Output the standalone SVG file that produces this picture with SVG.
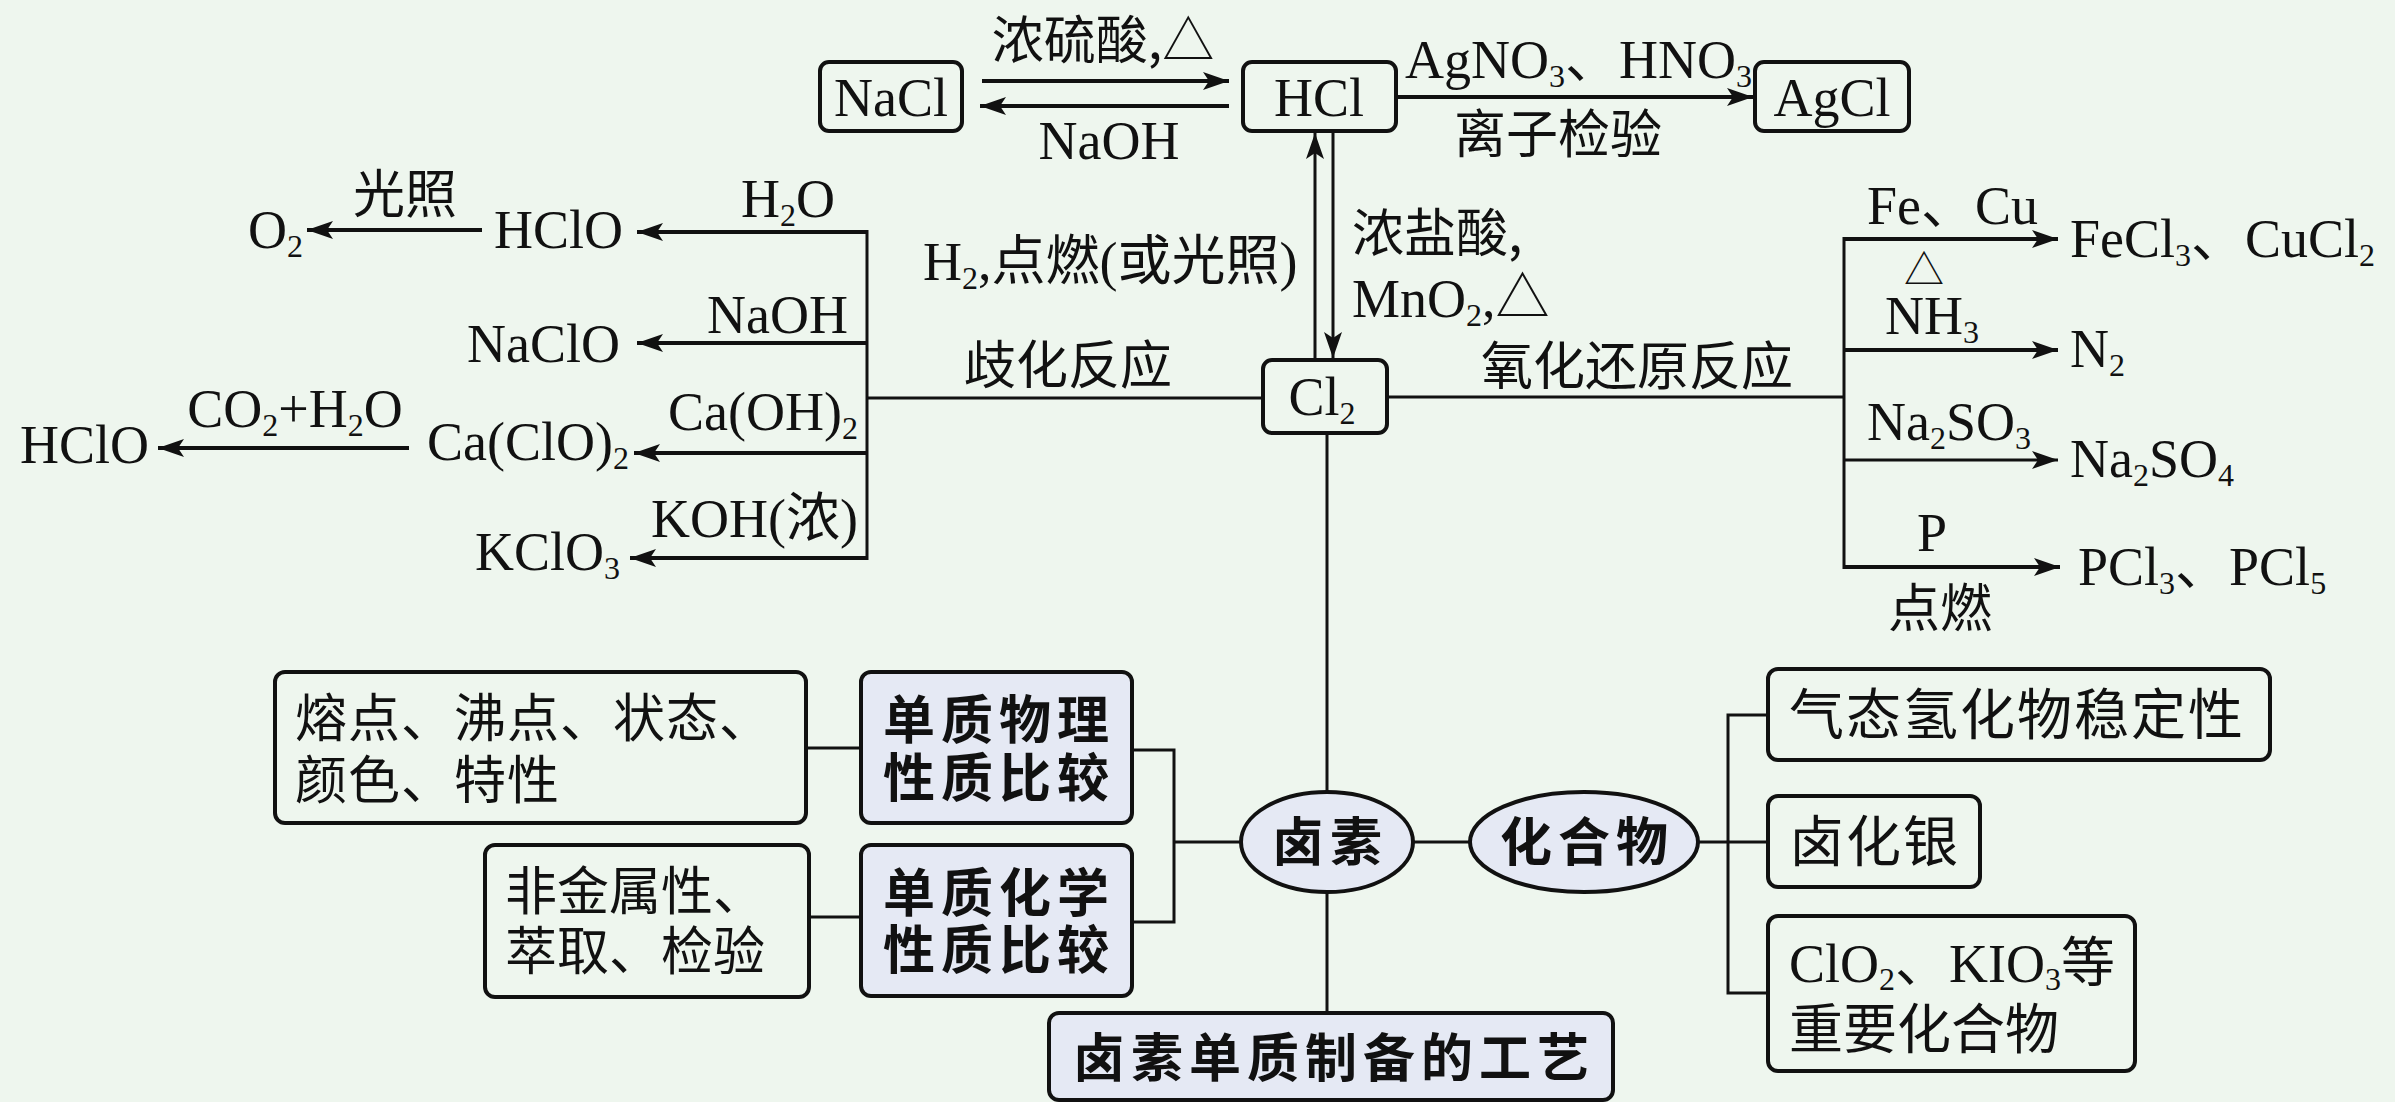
<svg xmlns="http://www.w3.org/2000/svg" width="2395" height="1102" viewBox="0 0 2395 1102">
<defs>
<style>
.chem{font-family:"Liberation Serif","Noto Sans CJK SC",serif;font-size:54px;fill:#111}
.cjk{font-family:"Noto Sans CJK SC","Liberation Serif",sans-serif;font-size:52px;fill:#111}
.bold{font-family:"Noto Sans CJK SC",sans-serif;font-weight:700;font-size:52px;fill:#111;letter-spacing:6px}
.sub{font-size:32px}
.box{fill:none;stroke:#111;stroke-width:4}
.fbox{fill:#e5e9f4;stroke:#111;stroke-width:4}
.ln{fill:none;stroke:#111;stroke-width:3}
.ar{fill:none;stroke:#111;stroke-width:4;marker-end:url(#ah)}
.art{fill:none;stroke:#111;stroke-width:3;marker-end:url(#ah)}
</style>
<marker id="ah" markerUnits="userSpaceOnUse" markerWidth="28" markerHeight="20" refX="26" refY="9" orient="auto">
<path d="M0,0 L26,9 L0,18 L6,9 z" fill="#111"/>
</marker>
</defs>
<rect width="2395" height="1102" fill="#eef6ee"/>

<g id="connectors">
<line class="ar" x1="982" y1="81" x2="1229" y2="81"/>
<line class="ar" x1="1229" y1="106" x2="980" y2="106"/>
<line class="ar" x1="1396" y1="97" x2="1753" y2="97"/>
<line class="art" x1="1315" y1="360" x2="1315" y2="133"/>
<line class="art" x1="1333" y1="131" x2="1333" y2="358"/>
<line class="ln" x1="867" y1="398" x2="1263" y2="398"/>
<line class="ln" x1="1387" y1="397" x2="1844" y2="397"/>
<line class="ln" x1="867" y1="230" x2="867" y2="560"/>
<line class="ar" x1="867" y1="232" x2="637" y2="232"/>
<line class="ar" x1="867" y1="343" x2="637" y2="343"/>
<line class="ar" x1="867" y1="453" x2="634" y2="453"/>
<line class="ar" x1="867" y1="558" x2="630" y2="558"/>
<line class="ar" x1="482" y1="230" x2="307" y2="230"/>
<line class="ar" x1="409" y1="448" x2="158" y2="448"/>
<line class="ln" x1="1844" y1="237" x2="1844" y2="569"/>
<line class="ar" x1="1844" y1="239" x2="2058" y2="239"/>
<line class="ar" x1="1844" y1="350" x2="2058" y2="350"/>
<line class="art" x1="1844" y1="460" x2="2058" y2="460"/>
<line class="ar" x1="1844" y1="567" x2="2060" y2="567"/>
<line class="ln" x1="1327" y1="433" x2="1327" y2="792"/>
<line class="ln" x1="1327" y1="892" x2="1327" y2="1013"/>
<line class="ln" x1="806" y1="748" x2="861" y2="748"/>
<line class="ln" x1="809" y1="917" x2="861" y2="917"/>
<polyline class="ln" points="1132,750 1174,750 1174,922 1132,922"/>
<line class="ln" x1="1174" y1="842" x2="1241" y2="842"/>
<line class="ln" x1="1413" y1="842" x2="1470" y2="842"/>
<line class="ln" x1="1698" y1="842" x2="1728" y2="842"/>
<polyline class="ln" points="1768,715 1728,715 1728,993 1768,993"/>
<line class="ln" x1="1728" y1="842" x2="1768" y2="842"/>
</g>

<g id="labels">
<text class="cjk" x="1103" y="59" text-anchor="middle">浓硫酸,△</text>
<text class="chem" x="1109" y="159" text-anchor="middle">NaOH</text>
<text class="chem" x="1405" y="78">AgNO<tspan class="sub" dy="9">3</tspan><tspan dy="-9">、HNO</tspan><tspan class="sub" dy="9">3</tspan></text>
<text class="cjk" x="1558" y="153" text-anchor="middle">离子检验</text>
<text class="chem" x="923" y="280">H<tspan class="sub" dy="9">2</tspan><tspan dy="-9">,点燃(或光照)</tspan></text>
<text class="cjk" x="1352" y="252">浓盐酸,</text>
<text class="chem" x="1352" y="317">MnO<tspan class="sub" dy="9">2</tspan><tspan dy="-9">,△</tspan></text>
<text class="cjk" x="1068" y="384" text-anchor="middle">歧化反应</text>
<text class="cjk" x="1637" y="385" text-anchor="middle">氧化还原反应</text>
<text class="chem" x="835" y="217" text-anchor="end">H<tspan class="sub" dy="9">2</tspan><tspan dy="-9">O</tspan></text>
<text class="chem" x="623" y="248" text-anchor="end">HClO</text>
<text class="cjk" x="405" y="213" text-anchor="middle">光照</text>
<text class="chem" x="248" y="248">O<tspan class="sub" dy="9">2</tspan></text>
<text class="chem" x="848" y="333" text-anchor="end">NaOH</text>
<text class="chem" x="620" y="362" text-anchor="end">NaClO</text>
<text class="chem" x="858" y="430" text-anchor="end">Ca(OH)<tspan class="sub" dy="9">2</tspan></text>
<text class="chem" x="629" y="460" text-anchor="end">Ca(ClO)<tspan class="sub" dy="9">2</tspan></text>
<text class="chem" x="295" y="427" text-anchor="middle">CO<tspan class="sub" dy="9">2</tspan><tspan dy="-9">+H</tspan><tspan class="sub" dy="9">2</tspan><tspan dy="-9">O</tspan></text>
<text class="chem" x="20" y="463">HClO</text>
<text class="chem" x="858" y="537" text-anchor="end">KOH(浓)</text>
<text class="chem" x="620" y="570" text-anchor="end">KClO<tspan class="sub" dy="9">3</tspan></text>
<text class="chem" x="1867" y="224">Fe、Cu</text>
<text class="cjk" x="1924" y="284" text-anchor="middle" style="font-size:40px">△</text>
<text class="chem" x="2070" y="257">FeCl<tspan class="sub" dy="9">3</tspan><tspan dy="-9">、CuCl</tspan><tspan class="sub" dy="9">2</tspan></text>
<text class="chem" x="1885" y="334">NH<tspan class="sub" dy="9">3</tspan></text>
<text class="chem" x="2070" y="367">N<tspan class="sub" dy="9">2</tspan></text>
<text class="chem" x="1867" y="440">Na<tspan class="sub" dy="9">2</tspan><tspan dy="-9">SO</tspan><tspan class="sub" dy="9">3</tspan></text>
<text class="chem" x="2070" y="477">Na<tspan class="sub" dy="9">2</tspan><tspan dy="-9">SO</tspan><tspan class="sub" dy="9">4</tspan></text>
<text class="chem" x="1932" y="551" text-anchor="middle">P</text>
<text class="cjk" x="1940" y="627" text-anchor="middle">点燃</text>
<text class="chem" x="2078" y="585">PCl<tspan class="sub" dy="9">3</tspan><tspan dy="-9">、PCl</tspan><tspan class="sub" dy="9">5</tspan></text>
</g>

<g id="node-nacl"><rect class="box" x="820" y="62" width="142" height="69" rx="9"/><text class="chem" x="891" y="116" text-anchor="middle">NaCl</text></g>
<g id="node-hcl"><rect class="box" x="1243" y="62" width="153" height="69" rx="9"/><text class="chem" x="1319" y="116" text-anchor="middle">HCl</text></g>
<g id="node-agcl"><rect class="box" x="1755" y="62" width="154" height="69" rx="9"/><text class="chem" x="1832" y="116" text-anchor="middle">AgCl</text></g>
<g id="node-cl2"><rect class="box" x="1263" y="360" width="124" height="73" rx="9"/><text class="chem" x="1322" y="415" text-anchor="middle">Cl<tspan class="sub" dy="9">2</tspan></text></g>

<g id="node-phys-props"><rect class="box" x="275" y="672" width="531" height="151" rx="10"/>
<text class="cjk" x="295" y="737" style="letter-spacing:1px">熔点、沸点、状态、</text>
<text class="cjk" x="295" y="799" style="letter-spacing:1px">颜色、特性</text></g>
<g id="node-phys"><rect class="fbox" x="861" y="672" width="271" height="151" rx="10"/>
<text class="bold" x="999" y="739" text-anchor="middle">单质物理</text>
<text class="bold" x="999" y="797" text-anchor="middle">性质比较</text></g>
<g id="node-chem-props"><rect class="box" x="485" y="845" width="324" height="152" rx="10"/>
<text class="cjk" x="505" y="910">非金属性、</text>
<text class="cjk" x="505" y="970">萃取、检验</text></g>
<g id="node-chem"><rect class="fbox" x="861" y="845" width="271" height="151" rx="10"/>
<text class="bold" x="999" y="912" text-anchor="middle">单质化学</text>
<text class="bold" x="999" y="969" text-anchor="middle">性质比较</text></g>

<g id="node-halogen"><ellipse class="fbox" cx="1327" cy="842" rx="86" ry="50"/><text class="bold" x="1330" y="861" text-anchor="middle">卤素</text></g>
<g id="node-compound"><ellipse class="fbox" cx="1584" cy="842" rx="114" ry="50"/><text class="bold" x="1587" y="861" text-anchor="middle">化合物</text></g>
<g id="node-process"><rect class="fbox" x="1049" y="1013" width="564" height="87" rx="10"/><text class="bold" x="1334" y="1077" text-anchor="middle">卤素单质制备的工艺</text></g>

<g id="node-hydride"><rect class="box" x="1768" y="669" width="502" height="91" rx="10"/><text class="cjk" x="1789" y="734" style="font-size:55px;letter-spacing:2px">气态氢化物稳定性</text></g>
<g id="node-agx"><rect class="box" x="1768" y="796" width="212" height="91" rx="10"/><text class="cjk" x="1789" y="861" style="font-size:55px;letter-spacing:2px">卤化银</text></g>
<g id="node-other"><rect class="box" x="1768" y="916" width="367" height="155" rx="10"/>
<text class="chem" x="1789" y="982">ClO<tspan class="sub" dy="8">2</tspan><tspan dy="-8">、KIO</tspan><tspan class="sub" dy="8">3</tspan><tspan dy="-8">等</tspan></text>
<text class="cjk" x="1789" y="1049" style="font-size:54px">重要化合物</text></g>
</svg>
